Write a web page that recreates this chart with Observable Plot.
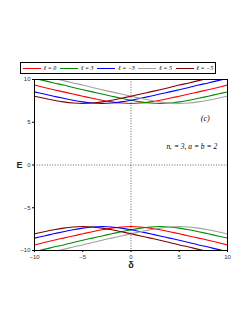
<!DOCTYPE html>
<html>
<head>
<meta charset="utf-8">
<script src="https://cdn.jsdelivr.net/npm/d3@7"></script>
<script src="https://cdn.jsdelivr.net/npm/@observablehq/plot@0.6"></script>
<style>
  html, body { margin: 0; padding: 0; background: #fff; }
  #wrap { position: relative; width: 249px; height: 323px; overflow: hidden; }
  #chart { position: absolute; left: 0; top: 0; }
  #legend { position: absolute; left: 20px; top: 62px; width: 194px; height: 10px;
    border: 1px solid #000; display: flex; justify-content: space-around; align-items: center;
    font-family: "Liberation Serif", "DejaVu Serif", serif; font-style: italic; font-size: 6px; box-sizing: content-box; }
  .item { display: flex; align-items: center; gap: 3px; white-space: nowrap; }
  .sw { width: 18px; height: 0; border-top: 1px solid; }
</style>
</head>
<body>
<div id="wrap">
  <div id="chart"></div>
  <div id="legend"></div>
</div>
<script>
const delta = [-10,-9,-8,-7,-6,-5,-4,-3,-2,-1,0,1,2,3,4,5,6,7,8,9,10];
const labels = ["ℓ = 0", "ℓ = 3", "ℓ = −3", "ℓ = 5", "ℓ = −5"];
const colors = ["#ff0000", "#008c00", "#0000ff", "#a0a0a0", "#800000"];

const upperL0  = [9.35,9.07,8.80,8.55,8.30,8.05,7.80,7.57,7.38,7.25,7.20,7.25,7.38,7.57,7.80,8.05,8.30,8.55,8.80,9.07,9.35];
const upperL3  = [10.13,9.87,9.60,9.35,9.07,8.80,8.55,8.30,8.05,7.80,7.57,7.38,7.25,7.20,7.25,7.38,7.57,7.80,8.05,8.30,8.55];
const upperLm3 = [8.55,8.30,8.05,7.80,7.57,7.38,7.25,7.20,7.25,7.38,7.57,7.80,8.05,8.30,8.55,8.80,9.07,9.35,9.60,9.87,10.13];
const upperL5  = [10.66,10.40,10.13,9.87,9.60,9.35,9.07,8.80,8.55,8.30,8.05,7.80,7.57,7.38,7.25,7.20,7.25,7.38,7.57,7.80,8.05];
const upperLm5 = [8.05,7.80,7.57,7.38,7.25,7.20,7.25,7.38,7.57,7.80,8.05,8.30,8.55,8.80,9.07,9.35,9.60,9.87,10.13,10.40,10.66];

const lowerL0  = [-9.35,-9.07,-8.80,-8.55,-8.30,-8.05,-7.80,-7.57,-7.38,-7.25,-7.20,-7.25,-7.38,-7.57,-7.80,-8.05,-8.30,-8.55,-8.80,-9.07,-9.35];
const lowerL3  = [-10.13,-9.87,-9.60,-9.35,-9.07,-8.80,-8.55,-8.30,-8.05,-7.80,-7.57,-7.38,-7.25,-7.20,-7.25,-7.38,-7.57,-7.80,-8.05,-8.30,-8.55];
const lowerLm3 = [-8.55,-8.30,-8.05,-7.80,-7.57,-7.38,-7.25,-7.20,-7.25,-7.38,-7.57,-7.80,-8.05,-8.30,-8.55,-8.80,-9.07,-9.35,-9.60,-9.87,-10.13];
const lowerL5  = [-10.66,-10.40,-10.13,-9.87,-9.60,-9.35,-9.07,-8.80,-8.55,-8.30,-8.05,-7.80,-7.57,-7.38,-7.25,-7.20,-7.25,-7.38,-7.57,-7.80,-8.05];
const lowerLm5 = [-8.05,-7.80,-7.57,-7.38,-7.25,-7.20,-7.25,-7.38,-7.57,-7.80,-8.05,-8.30,-8.55,-8.80,-9.07,-9.35,-9.60,-9.87,-10.13,-10.40,-10.66];

const xTicks = [-10,-5,0,5,10];
const yTicks = [-10,-5,0,5,10];

const seriesUpper = [upperL0, upperL3, upperLm3, upperL5, upperLm5];
const seriesLower = [lowerL0, lowerL3, lowerLm3, lowerL5, lowerLm5];

const rows = [];
seriesUpper.forEach((arr, i) => arr.forEach((v, j) => rows.push({d: delta[j], E: v, s: labels[i], branch: "u" + i})));
seriesLower.forEach((arr, i) => arr.forEach((v, j) => rows.push({d: delta[j], E: v, s: labels[i], branch: "l" + i})));

const chart = Plot.plot({
  width: 249,
  height: 323,
  marginLeft: 34,
  marginRight: 22,
  marginTop: 79,
  marginBottom: 73,
  style: {fontFamily: "Liberation Sans, DejaVu Sans, sans-serif", fontSize: "6px", background: "#fff"},
  x: {domain: [-10, 10]},
  y: {domain: [-10, 10]},
  color: {domain: labels, range: colors},
  marks: [
    Plot.ruleX([0], {stroke: "#555", strokeDasharray: "1,1.6", strokeWidth: 0.9}),
    Plot.ruleY([0], {stroke: "#555", strokeDasharray: "1,1.6", strokeWidth: 0.9}),
    Plot.line(rows, {x: "d", y: "E", z: "branch", stroke: "s", strokeWidth: 1.1, curve: "monotone-x", clip: true}),
    Plot.frame({stroke: "#000", strokeWidth: 1}),
    Plot.axisX({ticks: xTicks, tickSize: 2, tickPadding: 2, label: null, fill: "#333"}),
    Plot.axisY({ticks: yTicks, tickSize: 2, tickPadding: 2, label: null, fill: "#333"}),
    Plot.text(["δ"], {frameAnchor: "bottom", dy: 17, fontSize: 9, fontWeight: "bold", fill: "#222"}),
    Plot.text(["E"], {frameAnchor: "left", dx: -18, fontSize: 9, fontWeight: "bold", fill: "#222"}),
    Plot.text(["(c)"], {x: 7.7, y: 5.5, fontSize: 8, fontStyle: "italic", fontFamily: "Liberation Serif, DejaVu Serif, serif", fill: "#000"}),
    Plot.text(["nᵣ = 3, a = b = 2"], {x: 6.3, y: 2.2, fontSize: 7.5, fontStyle: "italic", fontFamily: "Liberation Serif, DejaVu Serif, serif", fill: "#000"})
  ]
});
document.getElementById("chart").appendChild(chart);

const legend = document.getElementById("legend");
labels.forEach((lab, i) => {
  const it = document.createElement("div");
  it.className = "item";
  const sw = document.createElement("span");
  sw.className = "sw";
  sw.style.borderTopColor = colors[i];
  const tx = document.createElement("span");
  tx.textContent = lab;
  it.appendChild(sw);
  it.appendChild(tx);
  legend.appendChild(it);
});
</script>
</body>
</html>
